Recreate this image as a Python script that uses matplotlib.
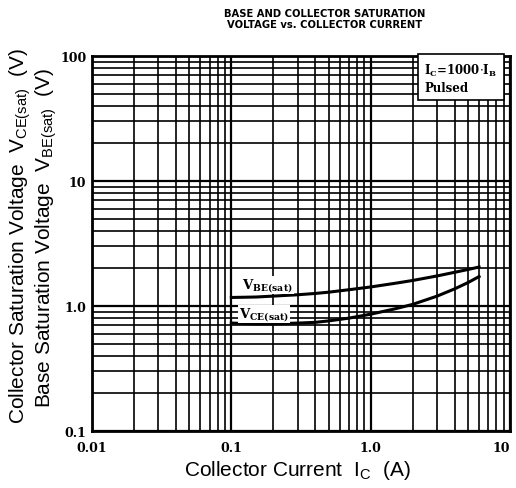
import matplotlib
matplotlib.use("Agg")
import matplotlib.pyplot as plt
from matplotlib.ticker import LogLocator, NullFormatter, FixedLocator, FixedFormatter

# Curve data
ic_vals = [0.1, 0.15, 0.2, 0.3, 0.4, 0.5, 0.7, 1.0, 1.5, 2.0, 3.0, 4.0, 5.0, 6.0]
vbe_sat = [1.17, 1.18, 1.2, 1.23, 1.26, 1.29, 1.35, 1.42, 1.52, 1.6, 1.74, 1.86, 1.96, 2.05]
vce_sat = [0.73, 0.72, 0.72, 0.73, 0.74, 0.76, 0.8, 0.86, 0.95, 1.03, 1.2, 1.37, 1.54, 1.72]

x_ticks = [0.01, 0.1, 1.0, 10]
x_labels = ["0.01", "0.1", "1.0", "10"]
y_ticks = [0.1, 1.0, 10, 100]
y_labels = ["0.1", "1.0", "10", "100"]

W, H = 516, 489
fig = plt.figure(figsize=(W / 100, H / 100), dpi=100)
ax = fig.add_axes([92 / W, 1 - 432 / H, (510 - 92) / W, (432 - 57) / H])

ax.set_xscale("log")
ax.set_yscale("log")
ax.set_xlim(0.01, 10)
ax.set_ylim(0.1, 100)

ax.xaxis.set_major_locator(FixedLocator(x_ticks))
ax.xaxis.set_major_formatter(FixedFormatter(x_labels))
ax.yaxis.set_major_locator(FixedLocator(y_ticks))
ax.yaxis.set_major_formatter(FixedFormatter(y_labels))
ax.xaxis.set_minor_locator(LogLocator(base=10, subs=range(2, 10), numticks=20))
ax.yaxis.set_minor_locator(LogLocator(base=10, subs=range(2, 10), numticks=20))
ax.xaxis.set_minor_formatter(NullFormatter())
ax.yaxis.set_minor_formatter(NullFormatter())
ax.tick_params(which="both", length=0, labelsize=9)
ax.tick_params(axis="x", pad=7)
ax.tick_params(axis="y", pad=4)
for lab in ax.get_xticklabels() + ax.get_yticklabels():
    lab.set_fontfamily("DejaVu Serif")
    lab.set_fontweight("bold")
ax.get_xticklabels()[-1].set_horizontalalignment("right")
ax.get_xticklabels()[-1].set_x(10)

ax.grid(True, which="major", color="black", linewidth=1.6)
ax.grid(True, which="minor", color="black", linewidth=1.2)
for s in ax.spines.values():
    s.set_linewidth(2)

ax.plot(ic_vals, vbe_sat, color="black", linewidth=2.2, zorder=5)
ax.plot(ic_vals, vce_sat, color="black", linewidth=2.2, zorder=5)

ax.text(0.12, 1.40, r"V$_{\mathregular{BE(sat)}}$", fontsize=9.5, fontfamily="DejaVu Serif",
        fontweight="bold", bbox=dict(facecolor="white", edgecolor="none", pad=0.5), zorder=6)
ax.text(0.113, 0.82, r"V$_{\mathregular{CE(sat)}}$", fontsize=9.5, fontfamily="DejaVu Serif",
        fontweight="bold", bbox=dict(facecolor="white", edgecolor="none", pad=0.5), zorder=6)

ax.text(0.795, 0.985, r"I$_\mathregular{C}$=1000$\cdot$I$_\mathregular{B}$" + "\nPulsed",
        transform=ax.transAxes, ha="left", va="top", fontsize=8.5,
        fontfamily="DejaVu Serif", fontweight="bold", linespacing=1.3,
        bbox=dict(facecolor="white", edgecolor="black", linewidth=1.2,
                  boxstyle="square,pad=0.55"), zorder=7)

fig.text(325 / W, 1 - 9 / H, "BASE AND COLLECTOR SATURATION\nVOLTAGE vs. COLLECTOR CURRENT",
         ha="center", va="top", fontsize=7.2, fontweight="bold", linespacing=1.15)

fig.text(297 / W, 1 - 471 / H, r"Collector Current  I$_\mathregular{C}$  (A)", fontsize=15,
         fontfamily="Liberation Sans", ha="center", va="center")
fig.text(20 / W, 1 - 236 / H, r"Collector Saturation Voltage  V$_{\mathregular{CE(sat)}}$  (V)",
         rotation=90, ha="center", va="center", fontsize=15, fontfamily="Liberation Sans")
fig.text(46 / W, 1 - 238 / H, r"Base Saturation Voltage  V$_{\mathregular{BE(sat)}}$  (V)",
         rotation=90, ha="center", va="center", fontsize=15, fontfamily="Liberation Sans")

fig.savefig("out.png", dpi=100)
